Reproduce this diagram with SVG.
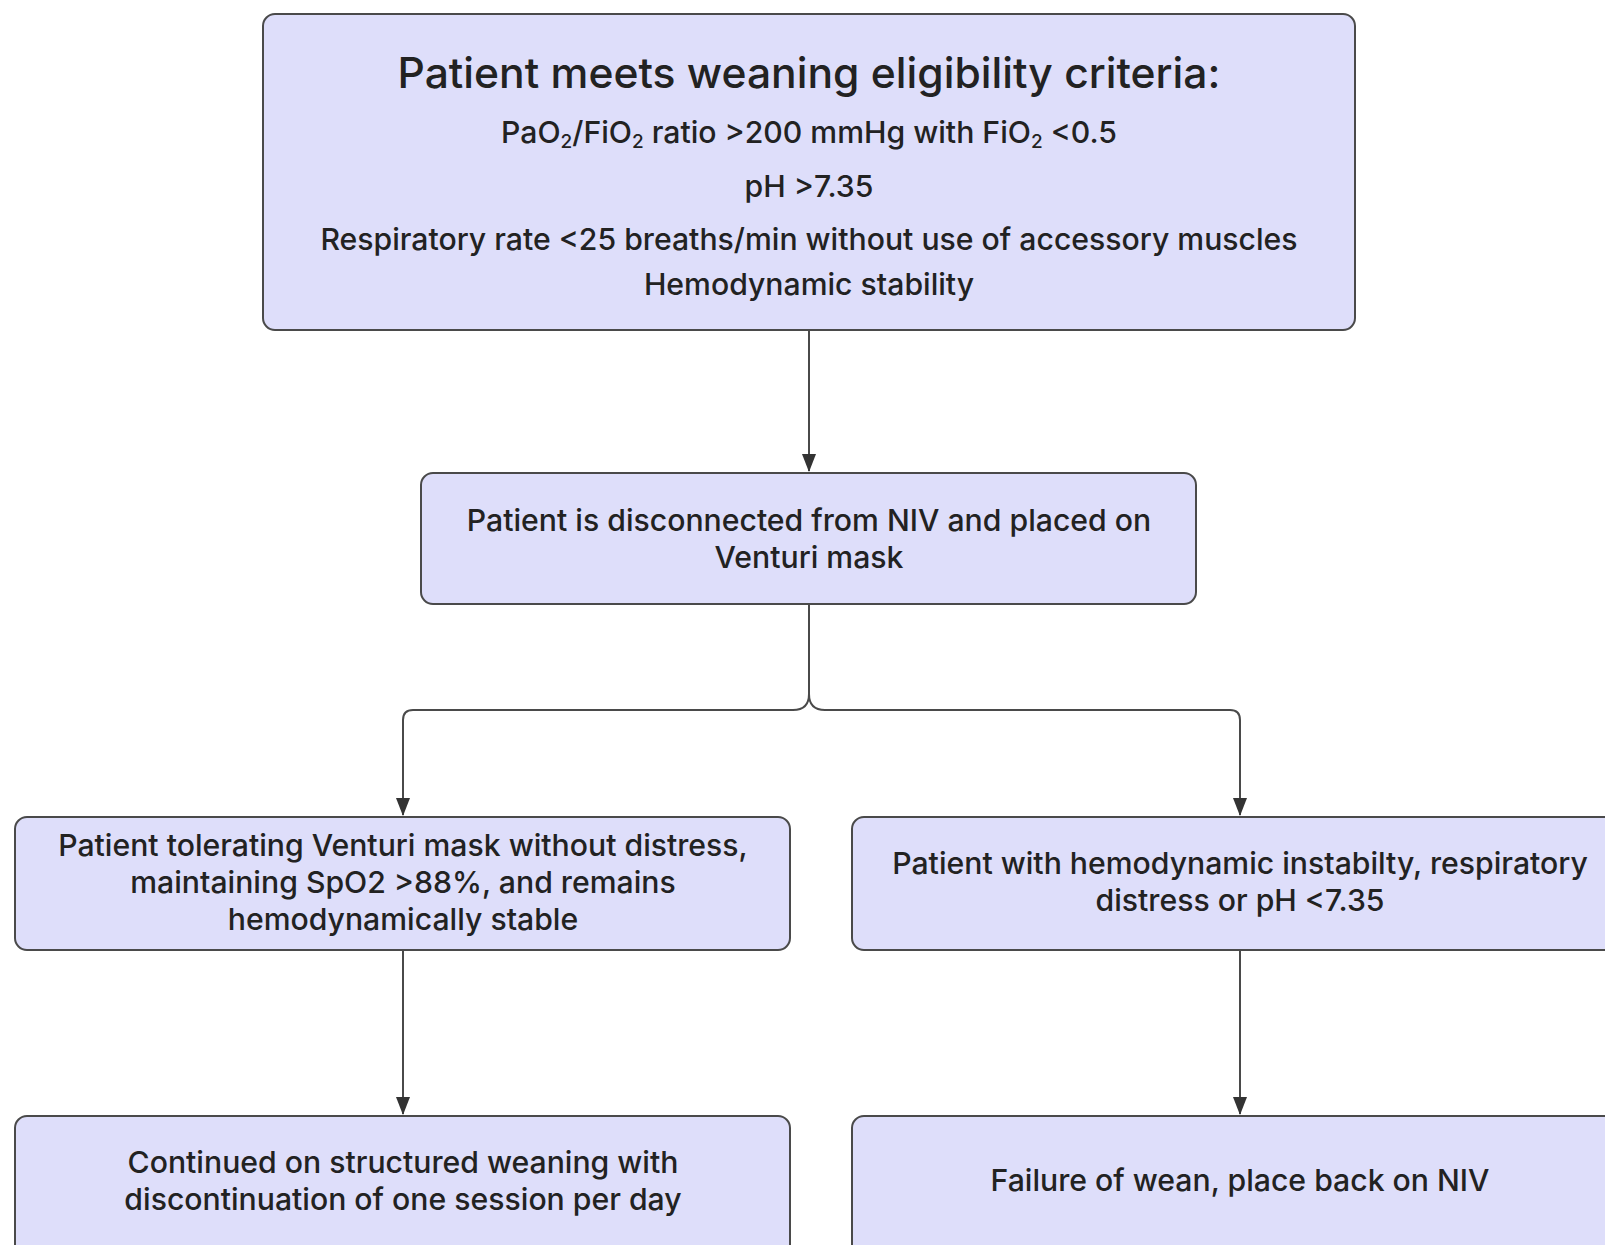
<svg xmlns="http://www.w3.org/2000/svg" width="1605" height="1245" viewBox="0 0 1605 1245">
<defs>
<style>
.box{fill:#dedefa;stroke:#4a4a4a;stroke-width:2}
.t{font-family:Inter,"Liberation Sans",sans-serif;fill:#222;text-anchor:middle;font-weight:500}
.b{font-size:30.2px}
.s{font-size:30.2px}
.h{font-size:42.6px}
.c{fill:none;stroke:#4a4a4a;stroke-width:2}
</style>
<marker id="ah" markerWidth="18" markerHeight="14" refX="17" refY="7" orient="auto" markerUnits="userSpaceOnUse" viewBox="0 0 18 14">
<path d="M0 0 L18 7 L0 14 Z" fill="#333"/>
</marker>
</defs>
<rect width="1605" height="1245" fill="#fff"/>
<g id="connectors">
<path class="c" d="M809 331 V471" marker-end="url(#ah)"/>
<path class="c" d="M809 605 V694 Q809 710 793 710 H413 Q403 710 403 720 V815" marker-end="url(#ah)"/>
<path class="c" d="M809 694 Q809 710 825 710 H1230 Q1240 710 1240 720 V815" marker-end="url(#ah)"/>
<path class="c" d="M403 951 V1114" marker-end="url(#ah)"/>
<path class="c" d="M1240 951 V1114" marker-end="url(#ah)"/>
</g>
<g id="n1">
<rect class="box" x="263" y="14" width="1092" height="316" rx="12"/>
<text class="t h" x="809" y="88">Patient meets weaning eligibility criteria:</text>
<text class="t s" x="809" y="143">PaO<tspan font-size="19" dy="5">2</tspan><tspan dy="-5">/FiO</tspan><tspan font-size="19" dy="5">2</tspan><tspan dy="-5"> ratio &gt;200 mmHg with FiO</tspan><tspan font-size="19" dy="5">2</tspan><tspan dy="-5"> &lt;0.5</tspan></text>
<text class="t s" x="809" y="197">pH &gt;7.35</text>
<text class="t s" x="809" y="250">Respiratory rate &lt;25 breaths/min without use of accessory muscles</text>
<text class="t s" x="809" y="295">Hemodynamic stability</text>
</g>
<g id="n2">
<rect class="box" x="421" y="473" width="775" height="131" rx="12"/>
<text class="t b" x="809" y="531">Patient is disconnected from NIV and placed on</text>
<text class="t b" x="809" y="568">Venturi mask</text>
</g>
<g id="n3">
<rect class="box" x="15" y="817" width="775" height="133" rx="12"/>
<text class="t b" x="403" y="856">Patient tolerating Venturi mask without distress,</text>
<text class="t b" x="403" y="893">maintaining SpO2 &gt;88%, and remains</text>
<text class="t b" x="403" y="930">hemodynamically stable</text>
</g>
<g id="n4">
<rect class="box" x="852" y="817" width="775" height="133" rx="12"/>
<text class="t b" x="1240" y="874">Patient with hemodynamic instabilty, respiratory</text>
<text class="t b" x="1240" y="911">distress or pH &lt;7.35</text>
</g>
<g id="n5">
<rect class="box" x="15" y="1116" width="775" height="150" rx="12"/>
<text class="t b" x="403" y="1173">Continued on structured weaning with</text>
<text class="t b" x="403" y="1210">discontinuation of one session per day</text>
</g>
<g id="n6">
<rect class="box" x="852" y="1116" width="775" height="150" rx="12"/>
<text class="t b" x="1240" y="1191">Failure of wean, place back on NIV</text>
</g>
</svg>
